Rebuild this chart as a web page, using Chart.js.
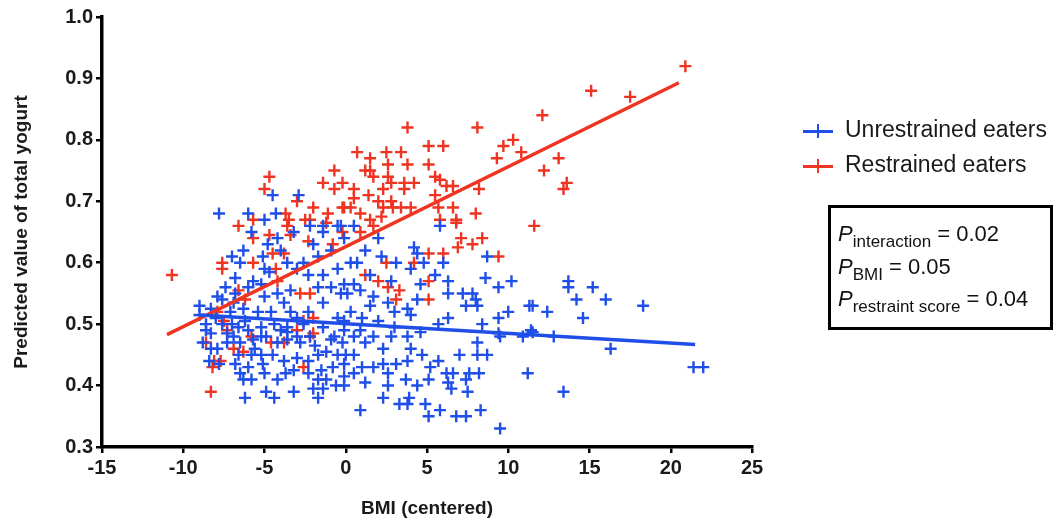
<!DOCTYPE html>
<html>
<head>
<meta charset="utf-8">
<script src="https://cdn.jsdelivr.net/npm/chart.js@4"></script>
<style>
  body { margin: 0; background: #fff; font-family: "Liberation Sans", Arial, sans-serif; }
  #wrap { position: relative; width: 1056px; height: 522px; }
  #chart { position: absolute; left: 0; top: 0; }
  .leg { position: absolute; left: 845px; font-size: 23px; line-height: 23px; color: #1a1a1a; white-space: nowrap; }
  .mark { position: absolute; left: 803px; width: 30px; height: 14px; }
  .mark .h { position: absolute; left: 0; top: 6px; width: 30px; height: 3px; }
  .mark .v { position: absolute; left: 14px; top: 0; width: 2px; height: 14px; }
  #pbox { position: absolute; left: 828px; top: 205px; width: 219px; height: 119px; border: 3px solid #000; }
  .pl { position: absolute; left: 838px; font-size: 22px; line-height: 22px; color: #111; white-space: nowrap; }
  .pl i { font-style: italic; }
  .pl .s { font-size: 17px; position: relative; top: 6px; }
</style>
</head>
<body>
<div id="wrap">
  <canvas id="chart" width="1056" height="522"></canvas>

  <div class="mark" style="top:124px"><div class="h" style="background:#1f4fe8"></div><div class="v" style="background:#1f4fe8"></div></div>
  <div class="leg" style="top:118px">Unrestrained eaters</div>
  <div class="mark" style="top:159px"><div class="h" style="background:#ef3422"></div><div class="v" style="background:#ef3422"></div></div>
  <div class="leg" style="top:153px">Restrained eaters</div>

  <div id="pbox"></div>
  <div class="pl" style="top:223px"><i>P</i><span class="s">interaction</span> = 0.02</div>
  <div class="pl" style="top:256px"><i>P</i><span class="s">BMI</span> = 0.05</div>
  <div class="pl" style="top:288px"><i>P</i><span class="s">restraint score</span> = 0.04</div>
</div>

<script>
// ---- data ----
const xRange = [-15, 25];
const yRange = [0.3, 1.0];

// [BMI centered, predicted yogurt]
const unrestrained = [
  [-2.9,0.71],[-4.5,0.71],[-7.8,0.68],[-6.0,0.68],[-5.0,0.67],[-4.3,0.68],[-1.4,0.66],[-0.3,0.66],
  [-5.8,0.65],[-7.0,0.61],[-6.3,0.62],[-5.1,0.61],[-4.2,0.64],[-4.0,0.62],[-3.2,0.65],[-2.2,0.66],
  [-1.4,0.65],[-0.5,0.66],[-0.1,0.64],[-0.9,0.62],[-1.7,0.61],[-3.0,0.59],[-2.3,0.58],[-1.4,0.58],
  [-0.5,0.59],[-5.0,0.59],[-5.7,0.57],[-6.0,0.56],[-5.2,0.565],[-7.4,0.56],[-6.8,0.575],[-7.6,0.54],
  [-6.9,0.535],[-9.0,0.53],[-8.3,0.525],[-8.0,0.51],[-7.1,0.52],[-6.3,0.525],[-5.4,0.52],[-5.0,0.545],
  [-4.2,0.55],[-3.8,0.535],[-3.4,0.52],[-4.6,0.52],[-4.4,0.50],[-5.2,0.495],[-6.0,0.49],[-6.6,0.495],
  [-3.6,0.495],[-3.0,0.51],[-2.3,0.52],[-1.4,0.535],[-0.9,0.56],[-0.3,0.55],[-1.7,0.56],[-3.4,0.555],
  [-1.4,0.495],[-0.5,0.51],[-0.1,0.49],[-0.7,0.48],[-5.2,0.48],[-8.3,0.485],
  [0.5,0.66],[0.3,0.60],[0.7,0.60],[2.2,0.61],[3.1,0.60],[4.2,0.625],[4.4,0.615],[4.0,0.59],
  [4.8,0.60],[6.0,0.60],[5.8,0.66],[8.7,0.61],[8.6,0.575],[10.2,0.57],[9.4,0.56],[5.5,0.58],
  [6.3,0.57],[4.6,0.565],[4.4,0.54],[6.3,0.55],[7.2,0.55],[7.8,0.55],[8.0,0.54],[7.4,0.53],
  [8.1,0.53],[-0.1,0.565],[0.5,0.565],[0.1,0.55],[0.9,0.555],[1.7,0.545],[1.5,0.53],[2.6,0.535],
  [2.8,0.57],[3.0,0.52],[3.8,0.525],[4.0,0.515],[6.3,0.51],[5.7,0.50],[9.4,0.51],[10.0,0.52],
  [11.3,0.53],[8.4,0.50],[11.4,0.49],[-0.1,0.505],[0.9,0.49],[3.0,0.495],[4.6,0.487],[9.4,0.485],
  [13.7,0.57],[13.7,0.56],[15.2,0.56],[14.2,0.54],[16.0,0.54],[12.4,0.52],[14.6,0.51],[18.3,0.53],
  [11.5,0.53],[11.5,0.487],[12.8,0.48],[16.3,0.46],[21.4,0.43],[22.0,0.43],[13.4,0.39],
  [0.5,0.48],[1.2,0.47],[1.7,0.48],[2.8,0.48],[3.8,0.48],[2.3,0.46],[8.1,0.47],[9.5,0.48],
  [10.9,0.48],[0.0,0.45],[0.5,0.45],[4.0,0.46],[4.7,0.45],[7.0,0.45],[8.1,0.45],[8.7,0.45],
  [1.0,0.43],[1.7,0.43],[2.3,0.435],[3.1,0.435],[3.8,0.44],[2.6,0.42],[5.2,0.43],[5.7,0.44],
  [6.2,0.42],[6.6,0.42],[7.6,0.42],[8.2,0.42],[11.2,0.42],[-0.1,0.415],[0.5,0.42],[1.2,0.405],
  [2.6,0.40],[3.7,0.41],[4.4,0.40],[5.1,0.41],[6.3,0.405],[6.5,0.395],[7.4,0.41],[7.5,0.39],
  [2.3,0.38],[3.3,0.37],[3.8,0.37],[3.9,0.38],[4.9,0.37],[0.9,0.36],[5.8,0.36],[5.1,0.35],
  [6.8,0.35],[7.4,0.35],[8.3,0.36],[9.5,0.33],
  [-6.2,0.38],[-4.9,0.39],[-4.4,0.38],[-3.2,0.39],[-1.7,0.38],[-6.3,0.41],[-5.8,0.41],[-5.0,0.42],
  [-4.2,0.41],[-3.7,0.42],[-3.2,0.425],[-2.3,0.42],[-1.7,0.41],[-1.2,0.41],[-0.6,0.40],[-0.1,0.40],
  [-1.4,0.395],[-2.0,0.395],[-8.4,0.44],[-7.8,0.435],[-8.3,0.46],[-7.9,0.46],[-8.6,0.49],[-6.8,0.435],
  [-6.5,0.42],[-6.0,0.43],[-6.6,0.45],[-5.8,0.45],[-5.2,0.45],[-4.5,0.45],[-5.7,0.475],[-4.9,0.48],
  [-4.2,0.47],[-3.6,0.475],[-2.8,0.47],[-2.2,0.48],[-1.7,0.45],[-1.2,0.455],[-0.5,0.45],[-0.1,0.435],
  [-0.8,0.43],[-1.5,0.425],[-2.3,0.44],[-3.0,0.445],[-3.8,0.44],[-5.1,0.435],[-7.3,0.485],[-6.9,0.48],
  [-6.5,0.47],[-3.6,0.487],[-3.0,0.48],[-0.9,0.475],[-0.2,0.47],
  [-9.0,0.515],[-8.6,0.50],[-8.8,0.47],[-7.6,0.50],[-7.0,0.50],[-6.8,0.55],[-2.6,0.60],[-2.0,0.63],
  [-3.6,0.60],[-4.8,0.63],[-6.5,0.60],[1.0,0.51],[2.0,0.505],[0.3,0.52],[1.2,0.62],[2.0,0.64],[1.5,0.58],
  [-7.3,0.47],[-6.2,0.505],[-5.6,0.46],[-4.0,0.49],[-2.6,0.50],[-1.9,0.465],[-7.9,0.545],[-4.7,0.585]
];

const restrained = [
  [20.9,0.92],[15.1,0.88],[17.5,0.87],[12.1,0.84],[8.1,0.82],[9.7,0.79],[10.3,0.80],[10.8,0.78],
  [9.3,0.77],[13.1,0.77],[12.2,0.75],[13.6,0.73],[13.4,0.72],[11.6,0.66],
  [3.8,0.82],[5.1,0.79],[6.0,0.79],[0.7,0.78],[1.5,0.77],[2.5,0.78],[3.4,0.78],[2.6,0.76],
  [3.8,0.76],[5.1,0.76],[1.2,0.75],[1.5,0.75],[1.7,0.74],[2.6,0.74],[2.8,0.73],[3.6,0.73],
  [4.2,0.73],[5.5,0.74],[5.8,0.735],[6.2,0.725],[6.6,0.725],[0.5,0.72],[2.3,0.72],[3.6,0.72],
  [8.2,0.72],[-0.2,0.73],[1.4,0.71],[0.5,0.705],[2.0,0.70],[2.8,0.70],[5.5,0.71],[-0.1,0.69],
  [0.3,0.69],[2.3,0.69],[2.9,0.69],[3.4,0.69],[4.0,0.69],[5.7,0.69],[6.6,0.69],[0.9,0.68],
  [1.5,0.67],[2.2,0.675],[5.8,0.67],[6.8,0.67],[8.0,0.68],
  [-0.7,0.75],[-4.7,0.74],[-5.0,0.72],[-1.4,0.73],[-0.7,0.72],[-3.0,0.70],[-2.0,0.69],[-0.2,0.69],
  [-3.7,0.68],[-2.5,0.67],[-2.2,0.67],[-1.1,0.68],[-6.6,0.66],[-5.7,0.67],[-3.5,0.67],
  [-10.7,0.58],[-7.6,0.60],[-7.6,0.59],[-5.7,0.64],[-4.7,0.645],[-3.6,0.66],[-3.4,0.645],[-2.3,0.635],
  [-1.2,0.665],[-0.8,0.63],[-4.5,0.615],[-5.7,0.60],[-3.8,0.615],[-4.3,0.59],[-4.2,0.57],[-6.6,0.555],
  [-6.2,0.54],[-2.8,0.55],[-2.2,0.55],[-2.0,0.51],[-2.6,0.505],[-7.9,0.52],[-7.3,0.49],[-3.0,0.49],
  [-2.2,0.48],
  [-0.2,0.65],[0.9,0.65],[1.7,0.66],[6.8,0.665],[7.1,0.64],[8.4,0.64],[6.9,0.625],[7.8,0.63],
  [5.1,0.615],[6.0,0.615],[9.4,0.61],[2.5,0.60],[1.2,0.58],[2.0,0.57],[2.6,0.56],[3.3,0.555],
  [3.1,0.54],[5.1,0.57],[5.1,0.54],[4.2,0.60],
  [-8.6,0.47],[-8.1,0.44],[-8.2,0.43],[-7.7,0.44],[-8.3,0.39],[-6.9,0.46],[-6.3,0.455],[-2.6,0.43],
  [-5.8,0.48],[-4.6,0.47],[-3.8,0.47],[-2.0,0.485],[-7.5,0.505]
];

// fitted lines: start / end
const unrestrainedFit = [[-9.0, 0.515], [21.5, 0.467]];
const restrainedFit = [[-11.0, 0.483], [20.5, 0.893]];

const BLUE = '#1f4fe8';
const RED = '#ef3422';

const toXY = arr => arr.map(p => ({ x: p[0], y: p[1] }));

const ctx = document.getElementById('chart').getContext('2d');
new Chart(ctx, {
  type: 'scatter',
  data: {
    datasets: [
      {
        label: 'Unrestrained fit', data: toXY(unrestrainedFit), showLine: true,
        borderColor: BLUE, borderWidth: 3.5, pointRadius: 0, order: 0
      },
      {
        label: 'Restrained fit', data: toXY(restrainedFit), showLine: true,
        borderColor: RED, borderWidth: 3.5, pointRadius: 0, order: 1
      },
      {
        label: 'Unrestrained eaters', data: toXY(unrestrained),
        pointStyle: 'cross', pointRadius: 6, borderColor: BLUE, borderWidth: 2.4, order: 2
      },
      {
        label: 'Restrained eaters', data: toXY(restrained),
        pointStyle: 'cross', pointRadius: 6, borderColor: RED, borderWidth: 2.4, order: 3
      }
    ]
  },
  options: {
    responsive: false,
    animation: false,
    events: [],
    layout: { padding: { left: 0, right: 304, top: 17, bottom: 0 } },
    plugins: { legend: { display: false }, tooltip: { enabled: false } },
    scales: {
      x: {
        min: xRange[0], max: xRange[1],
        ticks: { stepSize: 5, color: '#1a1a1a', font: { family: 'Liberation Sans', size: 20, weight: 'bold' }, padding: 3 },
        grid: { drawOnChartArea: false, color: '#000', lineWidth: 2.5, tickLength: 6 },
        border: { color: '#000', width: 3.5 },
        title: { display: true, text: 'BMI (centered)', color: '#1a1a1a',
          font: { family: 'Liberation Sans', size: 19, weight: 'bold' }, padding: { top: 2, bottom: 2 } },
        afterFit: s => { s.height = 75; }
      },
      y: {
        min: yRange[0], max: yRange[1],
        ticks: { stepSize: 0.1, color: '#1a1a1a', font: { family: 'Liberation Sans', size: 20, weight: 'bold' },
          padding: 3, callback: v => v.toFixed(1) },
        grid: { drawOnChartArea: false, color: '#000', lineWidth: 2.5, tickLength: 6 },
        border: { color: '#000', width: 3.5 },
        title: { display: true, text: 'Predicted value of total yogurt', color: '#1a1a1a',
          font: { family: 'Liberation Sans', size: 19, weight: 'bold' }, padding: { top: 10, bottom: 0 } },
        afterFit: s => { s.width = 102; }
      }
    }
  }
});
</script>
</body>
</html>
